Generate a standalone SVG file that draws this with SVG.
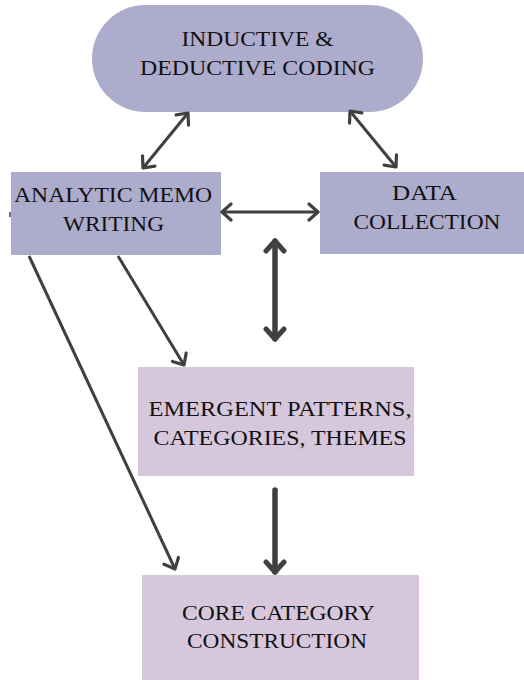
<svg xmlns="http://www.w3.org/2000/svg" width="524" height="680" viewBox="0 0 524 680">
<defs>
<style>
.blue{fill:#ADACCD;}
.pink{fill:#D7C7DD;}
text{font-family:'Liberation Serif','Times New Roman','DejaVu Serif',serif;font-size:22px;fill:#111;text-anchor:middle;}
.c{fill:none;stroke:#404040;stroke-width:3;}
.ct{fill:none;stroke:#404040;stroke-width:5.5;stroke-linecap:round;}
</style>
<marker id="ah" markerUnits="userSpaceOnUse" viewBox="0 0 20 20" refX="14" refY="10" markerWidth="20" markerHeight="20" orient="auto-start-reverse">
<path d="M5,2 L14,10 L5,18" fill="none" stroke="#404040" stroke-width="3.2" stroke-linecap="round" stroke-linejoin="round"/>
</marker>
<marker id="ahb" markerUnits="userSpaceOnUse" viewBox="0 0 24 24" refX="17" refY="12" markerWidth="24" markerHeight="24" orient="auto-start-reverse">
<path d="M7,3 L17,12 L7,21" fill="none" stroke="#404040" stroke-width="5" stroke-linecap="round" stroke-linejoin="round"/>
</marker>
</defs>
<rect width="524" height="680" fill="#fff"/>
<g id="coding">
<rect class="blue" x="92" y="5" width="331" height="107" rx="53.5"/>
<text x="257.5" y="46" textLength="152" lengthAdjust="spacingAndGlyphs">INDUCTIVE &amp;</text>
<text x="257.5" y="75" textLength="235" lengthAdjust="spacingAndGlyphs">DEDUCTIVE CODING</text>
</g>
<g id="memo">
<rect class="blue" x="11" y="172" width="210" height="83"/>
<text x="113" y="202" textLength="198" lengthAdjust="spacingAndGlyphs">ANALYTIC MEMO</text>
<text x="113.5" y="231" textLength="101" lengthAdjust="spacingAndGlyphs">WRITING</text>
</g>
<g id="data">
<rect class="blue" x="320" y="172" width="204" height="82"/>
<text x="424.5" y="200" textLength="65" lengthAdjust="spacingAndGlyphs">DATA</text>
<text x="427" y="229" textLength="147" lengthAdjust="spacingAndGlyphs">COLLECTION</text>
</g>
<g id="emergent">
<rect class="pink" x="138" y="367" width="276" height="109"/>
<text x="280" y="416" textLength="263" lengthAdjust="spacingAndGlyphs">EMERGENT PATTERNS,</text>
<text x="280" y="445" textLength="253" lengthAdjust="spacingAndGlyphs">CATEGORIES, THEMES</text>
</g>
<g id="core">
<rect class="pink" x="142" y="575" width="277" height="105"/>
<text x="278.5" y="620" textLength="193" lengthAdjust="spacingAndGlyphs">CORE CATEGORY</text>
<text x="277" y="648" textLength="180" lengthAdjust="spacingAndGlyphs">CONSTRUCTION</text>
</g>
<g id="connectors">
<line class="c" x1="188" y1="113" x2="143" y2="168" marker-start="url(#ah)" marker-end="url(#ah)"/>
<line class="c" x1="350" y1="111" x2="396" y2="167" marker-start="url(#ah)" marker-end="url(#ah)"/>
<line class="c" x1="222" y1="212" x2="318" y2="212" marker-start="url(#ah)" marker-end="url(#ah)"/>
<line class="ct" x1="275" y1="241" x2="275" y2="339" marker-start="url(#ahb)" marker-end="url(#ahb)"/>
<line class="c" x1="118" y1="256" x2="184" y2="365" marker-end="url(#ah)"/>
<line class="c" x1="29" y1="256" x2="175" y2="569" marker-end="url(#ah)"/>
<line class="ct" x1="275" y1="490" x2="275" y2="572" marker-end="url(#ahb)"/>
<line x1="10" y1="212" x2="10" y2="217" stroke="#404040" stroke-width="1.5"/>
</g>
</svg>
